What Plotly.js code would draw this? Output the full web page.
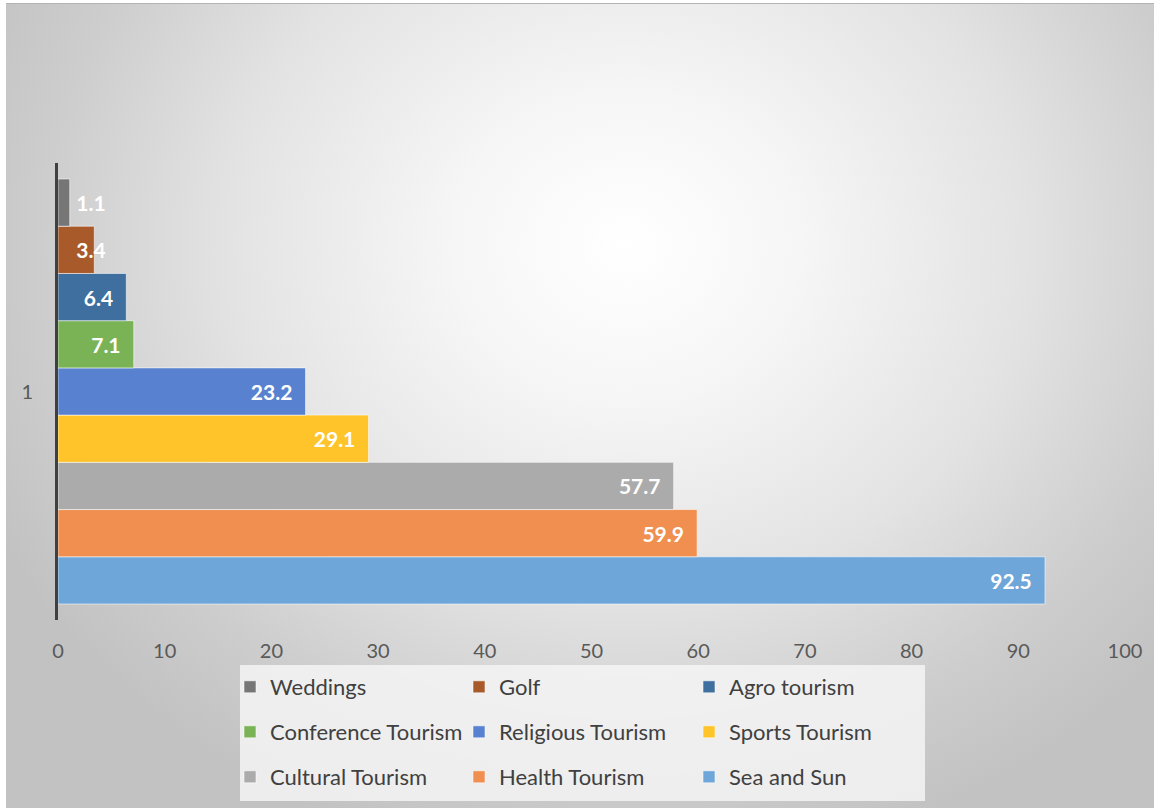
<!DOCTYPE html>
<html>
<head>
<meta charset="utf-8">
<script src="https://cdn.plot.ly/plotly-3.0.1.min.js"></script>
<style>
  html, body { margin: 0; padding: 0; background: #ffffff; width: 1154px; height: 808px; overflow: hidden; }
  #chart {
    position: absolute; left: 6px; top: 3px; width: 1148px; height: 805px;
    border-top: 1px solid #b4b4b4;
    background: radial-gradient(ellipse 62% 78% at 54% 30%, #ffffff 0%, #f6f6f6 24%, #e3e3e3 56%, #cdcdcd 82%, #c2c2c2 100%);
  }
</style>
</head>
<body>
<div id="chart"></div>
<script>
// ---- data ----
const categories = ['1'];
const seriesNames = ['Weddings', 'Golf', 'Agro tourism', 'Conference Tourism', 'Religious Tourism', 'Sports Tourism', 'Cultural Tourism', 'Health Tourism', 'Sea and Sun'];
const seriesValues = [1.1, 3.4, 6.4, 7.1, 23.2, 29.1, 57.7, 59.9, 92.5];
const seriesColors = ['#767676', '#a85a2b', '#3f6f9e', '#7ab356', '#5882cf', '#ffc42a', '#ababab', '#f08f4f', '#6ea6d9'];
const xTickValues = [0, 10, 20, 30, 40, 50, 60, 70, 80, 90, 100];

const W = 1148, H = 805;
const FONT = 'Lato, "Open Sans", sans-serif';
const NB = '\u00a0';

// legend grid geometry (container pixel coordinates)
const colLeft = [224, 453, 683];
const rowMid = [683, 728, 773];

const traces = [];
const legends = {};
for (let i = seriesNames.length - 1; i >= 0; i--) {
  const key = i === 0 ? 'legend' : 'legend' + (i + 1);
  const col = i % 3, row = Math.floor(i / 3);
  const narrow = seriesValues[i] < 5;   // label does not fit inside the bar
  legends[key] = {
    x: colLeft[col] / W, xref: 'container', xanchor: 'left',
    y: 1 - rowMid[row] / H, yref: 'container', yanchor: 'middle',
    bgcolor: 'rgba(0,0,0,0)', borderwidth: 0,
    font: { family: FONT, size: 22, color: '#404040' }
  };
  traces.push({
    type: 'bar', orientation: 'h',
    name: seriesNames[i],
    y: categories, x: [seriesValues[i]],
    legend: key,
    marker: { color: seriesColors[i], line: { color: 'rgba(255,255,255,0.55)', width: 1 } },
    text: [String(seriesValues[i])],
    texttemplate: narrow ? NB + NB + NB + '%{text}' : '%{text}' + NB + NB,
    textposition: 'inside',
    insidetextanchor: narrow ? 'start' : 'end',
    constraintext: 'none',
    textangle: 0,
    cliponaxis: false,
    textfont: { family: FONT, size: 21, color: '#ffffff', weight: 'bold' },
    hoverinfo: 'name+x'
  });
}

const layout = Object.assign({
  width: W, height: H,
  paper_bgcolor: 'rgba(0,0,0,0)',
  plot_bgcolor: 'rgba(0,0,0,0)',
  margin: { l: 52, r: 29, t: 159, b: 189, pad: 0, autoexpand: false },
  barmode: 'group',
  bargap: 0.07,
  bargroupgap: 0,
  showlegend: true,
  font: { family: FONT, color: '#595959' },
  xaxis: {
    range: [0, 100], tickvals: xTickValues, ticktext: xTickValues.map(String),
    showgrid: false, zeroline: false, showline: false, ticks: '',
    ticklabelstandoff: 17, automargin: false,
    tickfont: { family: FONT, size: 20, color: '#595959' }
  },
  yaxis: {
    type: 'category', range: [-0.5, 0.5],
    showgrid: false, zeroline: false, automargin: false,
    showline: true, linecolor: '#404040', linewidth: 3,
    ticks: '', ticklabelstandoff: 18,
    tickfont: { family: FONT, size: 20, color: '#595959' }
  },
  shapes: [{
    type: 'rect', xref: 'paper', yref: 'paper', layer: 'below',
    x0: (234 - 52) / 1067, x1: (919 - 52) / 1067,
    y0: (616 - 661) / 457, y1: (616 - 797) / 457,
    fillcolor: 'rgba(244,244,244,0.85)', line: { width: 0 }
  }]
}, legends);

Plotly.newPlot('chart', traces, layout, { displayModeBar: false, staticPlot: true });
</script>
</body>
</html>
